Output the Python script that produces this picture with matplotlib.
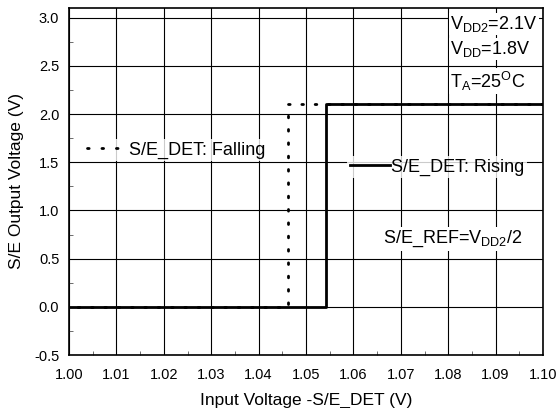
import matplotlib.pyplot as plt
from matplotlib.lines import Line2D
from matplotlib.ticker import MultipleLocator

plt.rcParams['font.family'] = ['Liberation Sans', 'DejaVu Sans']
plt.rcParams['mathtext.fontset'] = 'custom'
plt.rcParams['mathtext.rm'] = 'Liberation Sans'

# rising / falling sweep of the S/E detector output
rise_x = [1.00, 1.0542, 1.0542, 1.10]
rise_y = [0.0, 0.0, 2.1, 2.1]
fall_x = [1.10, 1.0462, 1.0462, 1.00]
fall_y = [2.1, 2.1, 0.0, 0.0]

fig = plt.figure(figsize=(5.57, 4.08), dpi=100)
ax = fig.add_axes([0.1239, 0.1299, 0.851, 0.8505])

dot_style = (0, (0.6, 4.2))
ax.plot(fall_x, fall_y, color='black', lw=2, linestyle=dot_style, dash_capstyle='round', zorder=3)
ax.plot(rise_x, rise_y, color='black', lw=2, zorder=4)

ax.set_xlim(1.00, 1.10)
ax.set_ylim(-0.5, 3.1)
ax.xaxis.set_minor_locator(MultipleLocator(0.005))
ax.yaxis.set_minor_locator(MultipleLocator(0.25))
ax.set_xticks([1.00 + 0.01 * i for i in range(11)])
ax.set_xticklabels(['%.2f' % (1.00 + 0.01 * i) for i in range(11)])
ax.set_yticks([-0.5 + 0.5 * i for i in range(8)])
ax.set_yticklabels(['%.1f' % (-0.5 + 0.5 * i) for i in range(8)])
ax.tick_params(which='both', direction='in', labelsize=10.5, color='#555555')
ax.tick_params(axis='x', which='major', length=0, pad=9)
ax.tick_params(axis='y', which='major', length=0, pad=7)
ax.tick_params(which='minor', length=3)
ax.grid(True, which='major', color='black', lw=0.8)
for s in ax.spines.values():
    s.set_linewidth(1.2)

ax.set_xlabel('Input Voltage -S/E_DET (V)', fontsize=12.5, labelpad=8)
ax.set_ylabel('S/E Output Voltage (V)', fontsize=12.5, labelpad=7)

fall_handle = Line2D([], [], color='black', lw=2, linestyle=(0, (0.6, 4.6)), dash_capstyle='round')
rise_handle = Line2D([], [], color='black', lw=2)

leg1 = fig.legend([fall_handle], ['S/E_DET: Falling'], loc='center',
                  bbox_to_anchor=(176 / 557, 1 - 150 / 408), frameon=True, fontsize=13,
                  handlelength=1.75, handletextpad=0.6, borderpad=0.15, fancybox=False)
leg1.get_frame().set_edgecolor('none')
leg2 = fig.legend([rise_handle], ['S/E_DET: Rising'], loc='center',
                  bbox_to_anchor=(437 / 557, 1 - 167 / 408), frameon=True, fontsize=13,
                  handlelength=2.2, handletextpad=0.05, borderpad=0.15, fancybox=False)
leg2.get_frame().set_edgecolor('none')

box = dict(facecolor='white', edgecolor='none', pad=1)
fig.text(450 / 557, 1 - 29 / 408, r'V$_{\mathregular{DD2}}$=2.1V', fontsize=13, va='baseline', ha='left', bbox=box)
fig.text(450 / 557, 1 - 54 / 408, r'V$_{\mathregular{DD}}$=1.8V', fontsize=13, va='baseline', ha='left', bbox=box)
fig.text(450 / 557, 1 - 88 / 408, r'T$_{\mathregular{A}}$=25$^{\mathregular{O}}$C', fontsize=13, va='baseline', ha='left', bbox=box)
fig.text(383 / 557, 1 - 243 / 408, r'S/E_REF=V$_{\mathregular{DD2}}$/2', fontsize=13, va='baseline', ha='left', bbox=box)

fig.savefig('out.png', dpi=100)
